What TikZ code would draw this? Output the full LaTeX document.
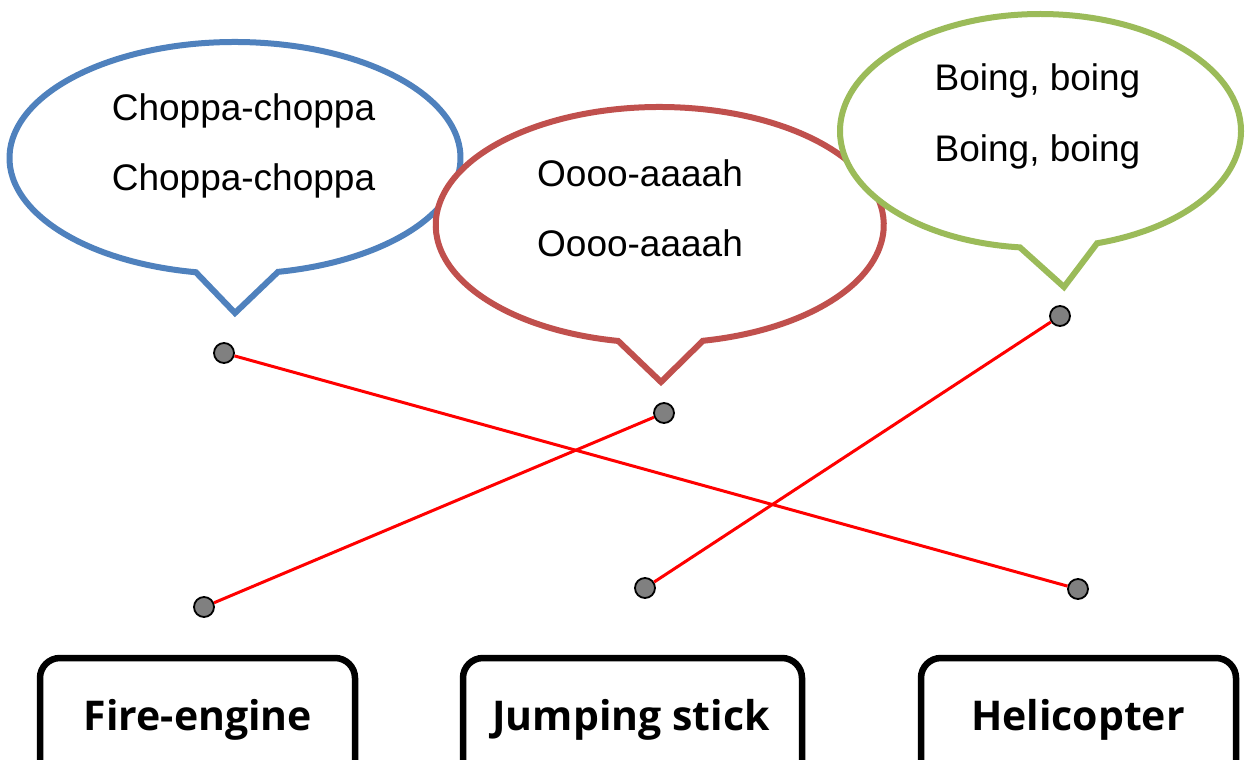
\documentclass[tikz,border=0pt]{standalone}
\usepackage{fontspec}
\setmainfont{Liberation Sans}
\newfontfamily\lblfont{Open Sans}
\definecolor{bblue}{RGB}{79,129,189}
\definecolor{bred}{RGB}{192,80,77}
\definecolor{bgreen}{RGB}{155,187,89}
\definecolor{dotgray}{RGB}{128,128,128}
\begin{document}
\begin{tikzpicture}[x=1pt,y=-1pt,
  bubble/.style={line width=6pt, fill=white, line join=miter},
  saying/.style={anchor=base, font=\fontsize{37}{44}\selectfont, inner sep=0pt},
  dot/.style={circle, draw=black, line width=1.8pt, fill=dotgray, minimum size=20pt, inner sep=0pt},
  link/.style={red, line width=3pt},
  toybox/.style={draw=black, line width=6.5pt, rounded corners=20pt, fill=white},
  toylabel/.style={anchor=base, font=\lblfont\bfseries\fontsize{41}{48}\selectfont, inner sep=0pt}]
\useasboundingbox (0,0) rectangle (1245,760);
\clip (0,0) rectangle (1245,760);
% bubbles (blue under red under green)
\coordinate (cb) at (235,158);
\coordinate (tb) at (235,313);
\draw[bubble, draw=bblue] (cb) ++(100:225.5 and 116) arc[start angle=100, end angle=439, x radius=225.5, y radius=116] -- (tb) -- cycle;
\coordinate (cr) at (659.75,225);
\coordinate (tr) at (661,382);
\draw[bubble, draw=bred] (cr) ++(100.7:224 and 118) arc[start angle=100.7, end angle=438.9, x radius=224, y radius=118] -- (tr) -- cycle;
\coordinate (cg) at (1040.5,131);
\coordinate (tg) at (1064,287);
\draw[bubble, draw=bgreen] (cg) ++(95.9:200.5 and 117) arc[start angle=95.9, end angle=433.6, x radius=200.5, y radius=117] -- (tg) -- cycle;
% sayings
\node[saying] (s1) at (243.5,120) {Choppa-choppa};
\node[saying] (s2) at (243.5,190) {Choppa-choppa};
\node[saying] (s3) at (640,186) {Oooo-aaaah};
\node[saying] (s4) at (640,256) {Oooo-aaaah};
\node[saying] (s5) at (1037.5,91) {Boing, boing};
\node[saying] (s6) at (1037.5,161) {Boing, boing};
% dots
\node[dot] (u1) at (224,353) {};
\node[dot] (u2) at (664,413) {};
\node[dot] (u3) at (1060,316) {};
\node[dot] (l1) at (204,607) {};
\node[dot] (l2) at (645,588) {};
\node[dot] (l3) at (1078,589) {};
\draw[link] (u1) -- (l3);
\draw[link] (u2) -- (l1);
\draw[link] (u3) -- (l2);
% boxes
\draw[toybox] (40,658) rectangle (355,800);
\draw[toybox] (463,658) rectangle (802,800);
\draw[toybox] (921,658) rectangle (1236,800);
\node[toylabel] (b1) at (198,730) {Fire-engine};
\node[toylabel] (b2) at (631,730) {Jumping stick};
\node[toylabel] (b3) at (1078,730) {Helicopter};
\end{tikzpicture}
\end{document}
